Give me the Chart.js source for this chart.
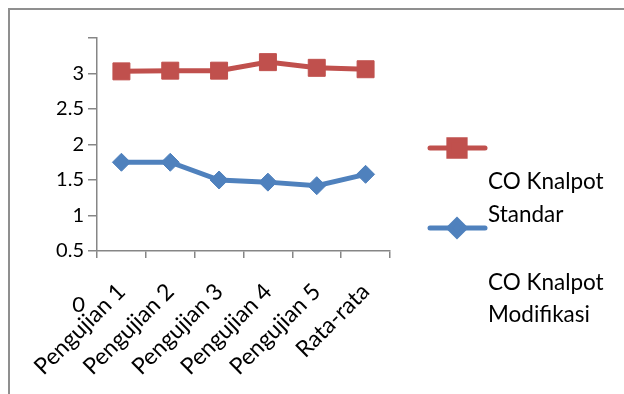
<!DOCTYPE html>
<html>
<head>
<meta charset="utf-8">
<script src="https://cdn.jsdelivr.net/npm/chart.js@4/dist/chart.umd.min.js"></script>
<style>
  html, body { margin: 0; padding: 0; background: #fff; }
  #wrap { width: 624px; height: 394px; position: relative; }
</style>
</head>
<body>
<div id="wrap"><canvas id="coChart" width="624" height="394"></canvas></div>
<script>
// Data
const categories = ["Pengujian 1", "Pengujian 2", "Pengujian 3", "Pengujian 4", "Pengujian 5", "Rata-rata"];
const standarValues = [3.03, 3.04, 3.04, 3.16, 3.08, 3.06];
const modifikasiValues = [1.75, 1.75, 1.50, 1.47, 1.42, 1.58];
const seriesNames = ["CO Knalpot Standar", "CO Knalpot Modifikasi"];
const axisColor = "#868686";
const fontFamily = "Lato, 'Open Sans', sans-serif";

// Outer frame, the stray "0" label and the side legend
const extrasPlugin = {
  id: "extras",
  beforeDraw(chart) {
    const ctx = chart.ctx;
    ctx.save();
    ctx.strokeStyle = "#8f8f8f";
    ctx.lineWidth = 2;
    ctx.strokeRect(9, 9, 800, 600);
    ctx.restore();
  },
  afterDraw(chart) {
    const ctx = chart.ctx;
    const y = chart.scales.y;
    ctx.save();
    ctx.fillStyle = "#000";
    ctx.font = "22px " + fontFamily;
    ctx.textAlign = "right";
    ctx.textBaseline = "middle";
    ctx.fillText("0", 85, y.getPixelForValue(0) + 18);

    // legend
    const rows = [
      { lineY: 148, textY: [189, 222] },
      { lineY: 228, textY: [290, 322] }
    ];
    chart.data.datasets.forEach((ds, i) => {
      const r = rows[i];
      ctx.strokeStyle = ds.borderColor;
      ctx.lineWidth = 5;
      ctx.lineCap = "round";
      ctx.beginPath();
      ctx.moveTo(430, r.lineY);
      ctx.lineTo(485, r.lineY);
      ctx.stroke();
      ctx.fillStyle = ds.backgroundColor;
      ctx.strokeStyle = ds.borderColor;
      Chart.helpers.drawPoint(ctx, {
        pointStyle: ds.pointStyle,
        radius: ds.pointStyle === "rect" ? 11.5 : 8,
        borderWidth: 1,
        rotation: 0
      }, 457, r.lineY);
      ctx.fillStyle = "#000";
      ctx.font = "22.5px " + fontFamily;
      ctx.textAlign = "left";
      ctx.textBaseline = "alphabetic";
      const words = ds.label.split(" ");
      ctx.fillText(words.slice(0, 2).join(" "), 488, r.textY[0]);
      ctx.fillText(words.slice(2).join(" "), 488, r.textY[1]);
    });
    ctx.restore();
  }
};

new Chart(document.getElementById("coChart"), {
  type: "line",
  data: {
    labels: categories,
    datasets: [
      {
        label: seriesNames[0],
        data: standarValues,
        borderColor: "#C0504D",
        backgroundColor: "#C0504D",
        borderWidth: 5,
        pointStyle: "rect",
        pointRadius: 12,
        pointHoverRadius: 12,
        pointBorderWidth: 1
      },
      {
        label: seriesNames[1],
        data: modifikasiValues,
        borderColor: "#4F81BD",
        backgroundColor: "#4F81BD",
        borderWidth: 5,
        pointStyle: "rectRot",
        pointRadius: 9,
        pointHoverRadius: 9,
        pointBorderWidth: 1
      }
    ]
  },
  options: {
    responsive: false,
    animation: false,
    layout: { padding: { top: 38, right: 234, left: 0, bottom: 0 } },
    plugins: { legend: { display: false }, tooltip: { enabled: false } },
    elements: { line: { tension: 0 } },
    scales: {
      x: {
        offset: true,
        grid: { offset: true, drawOnChartArea: false, tickLength: 7, color: axisColor, lineWidth: 1.5 },
        border: { color: axisColor, width: 1.5 },
        ticks: {
          color: "#000",
          font: { family: fontFamily, size: 23 },
          minRotation: 45,
          maxRotation: 45,
          padding: 20,
          autoSkip: false
        },
        afterFit(scale) { scale.height = 143; }
      },
      y: {
        min: 0.5,
        max: 3.5,
        grid: { drawOnChartArea: false, tickLength: 9, color: axisColor, lineWidth: 1.5 },
        border: { color: axisColor, width: 1.5 },
        ticks: {
          stepSize: 0.5,
          color: "#000",
          font: { family: fontFamily, size: 20 },
          padding: 4,
          callback: v => (v === 3.5 ? "" : v)
        },
        afterFit(scale) { scale.width = 97; }
      }
    }
  },
  plugins: [extrasPlugin]
});
</script>
</body>
</html>
